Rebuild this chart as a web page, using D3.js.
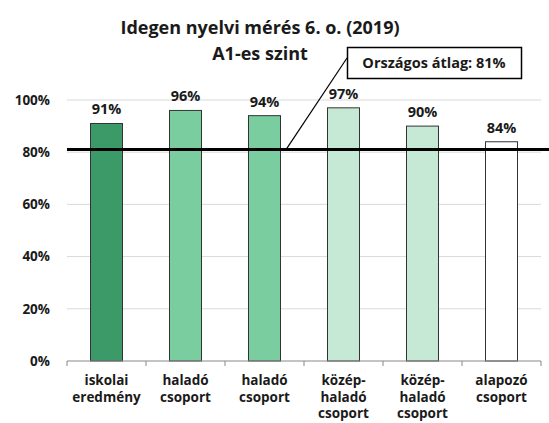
<!DOCTYPE html>
<html>
<head>
<meta charset="utf-8">
<script src="https://cdn.jsdelivr.net/npm/d3@7"></script>
<style>
  body { margin: 0; background: #fff; }
  text { font-family: "Open Sans", Lato, sans-serif; font-weight: bold; fill: #1a1a1a; }
</style>
</head>
<body>
<div id="chart"></div>
<script>
"use strict";

// chart data
const categories = [
    ["iskolai", "eredmény"],
    ["haladó", "csoport"],
    ["haladó", "csoport"],
    ["közép-", "haladó", "csoport"],
    ["közép-", "haladó", "csoport"],
    ["alapozó", "csoport"]
];
const values = [91, 96, 94, 97, 90, 84];
const barColors = ["#3b9a67", "#79cd9f", "#79cd9f", "#c6e9d6", "#c6e9d6", "#ffffff"];
const yTicks = [0, 20, 40, 60, 80, 100];
const nationalAvg = 81;
const titleLines = ["Idegen nyelvi mérés 6. o. (2019)", "A1-es szint"];
const calloutText = "Országos átlag: 81%";

const width = 549, height = 423;
const margin = { top: 100, right: 8, bottom: 62, left: 67 };

const svg = d3.select("#chart")
    .append("svg")
    .attr("width", width)
    .attr("height", height);

// outer band = category slot, inner band = bar
const xOuter = d3.scaleBand()
    .domain(d3.range(values.length))
    .range([margin.left, width - margin.right]);

const x = d3.scaleBand()
    .domain(d3.range(values.length))
    .range([margin.left, width - margin.right])
    .paddingInner(0.595)
    .paddingOuter(0.2975);

const y = d3.scaleLinear()
    .domain([0, 100])
    .range([height - margin.bottom, margin.top]);

// gridlines
svg.append("g")
    .selectAll("line")
    .data(yTicks.filter(d => d > 0))
    .enter()
    .append("line")
    .attr("x1", margin.left)
    .attr("x2", width - margin.right)
    .attr("y1", d => y(d))
    .attr("y2", d => y(d))
    .attr("stroke", "#d9d9d9")
    .attr("stroke-width", 1);

// y labels
svg.append("g")
    .selectAll("text")
    .data(yTicks)
    .enter()
    .append("text")
    .attr("x", 50)
    .attr("y", d => y(d))
    .attr("dy", "0.35em")
    .attr("text-anchor", "end")
    .style("font-size", "13.5px")
    .text(d => d + "%");

// bars
svg.append("g")
    .selectAll("rect")
    .data(values)
    .enter()
    .append("rect")
    .attr("x", (d, i) => x(i))
    .attr("y", d => y(d))
    .attr("width", x.bandwidth())
    .attr("height", d => y(0) - y(d))
    .attr("fill", (d, i) => barColors[i])
    .attr("stroke", "#333")
    .attr("stroke-width", 1);

// value labels
svg.append("g")
    .selectAll("text")
    .data(values)
    .enter()
    .append("text")
    .attr("x", (d, i) => x(i) + x.bandwidth() / 2)
    .attr("y", d => y(d) - 9)
    .attr("text-anchor", "middle")
    .style("font-size", "14.5px")
    .text(d => d + "%");

// x axis baseline and ticks
const axis = svg.append("g");
axis.append("line")
    .attr("x1", margin.left)
    .attr("x2", width - margin.right)
    .attr("y1", y(0))
    .attr("y2", y(0))
    .attr("stroke", "#888");
axis.selectAll(".tick")
    .data(d3.range(values.length + 1))
    .enter()
    .append("line")
    .attr("class", "tick")
    .attr("x1", i => margin.left + i * xOuter.bandwidth())
    .attr("x2", i => margin.left + i * xOuter.bandwidth())
    .attr("y1", y(0))
    .attr("y2", y(0) + 5)
    .attr("stroke", "#888");

// category labels
const catG = svg.append("g")
    .selectAll("text")
    .data(categories)
    .enter()
    .append("text")
    .attr("text-anchor", "middle")
    .style("font-size", "13.5px");
catG.selectAll("tspan")
    .data((d, i) => d.map(t => ({ t: t, i: i })))
    .enter()
    .append("tspan")
    .attr("x", d => xOuter(d.i) + xOuter.bandwidth() / 2)
    .attr("y", (d, j) => 385 + j * 16.5)
    .text(d => d.t);

// national average line
svg.append("line")
    .attr("x1", margin.left)
    .attr("x2", width)
    .attr("y1", y(nationalAvg))
    .attr("y2", y(nationalAvg))
    .attr("stroke", "#000")
    .attr("stroke-width", 3);

// callout
svg.append("line")
    .attr("x1", 286)
    .attr("y1", y(nationalAvg))
    .attr("x2", 347)
    .attr("y2", 58)
    .attr("stroke", "#000")
    .attr("stroke-width", 1.2);
svg.append("rect")
    .attr("x", 347.5)
    .attr("y", 47.5)
    .attr("width", 174)
    .attr("height", 31)
    .attr("fill", "#fff")
    .attr("stroke", "#000")
    .attr("stroke-width", 1.5);
svg.append("text")
    .attr("x", 434)
    .attr("y", 63)
    .attr("dy", "0.35em")
    .attr("text-anchor", "middle")
    .style("font-size", "14.5px")
    .text(calloutText);

// title
svg.append("g")
    .selectAll("text")
    .data(titleLines)
    .enter()
    .append("text")
    .attr("x", 260)
    .attr("y", (d, i) => 34 + i * 26)
    .attr("text-anchor", "middle")
    .style("font-size", "18px")
    .text(d => d);
</script>
</body>
</html>
